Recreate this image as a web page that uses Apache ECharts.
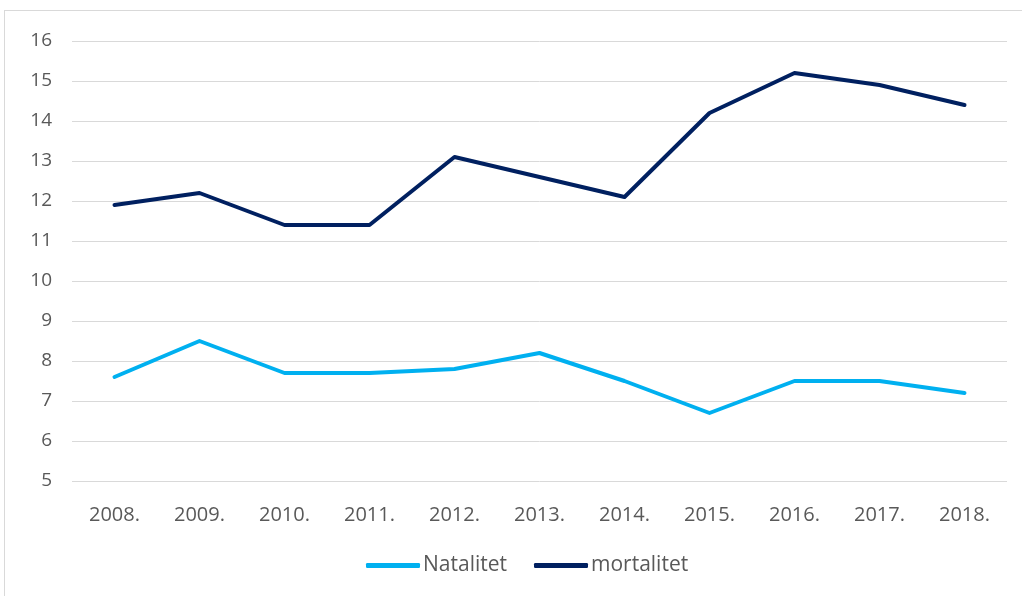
<!DOCTYPE html>
<html>
<head>
<meta charset="utf-8">
<script src="https://cdn.jsdelivr.net/npm/echarts@6/dist/echarts.min.js"></script>
<style>
    html, body {margin: 0; padding: 0; background: #fff;}
    #wrap {position: absolute; left: 4px; top: 10px; width: 1030px; height: 600px; border: 1px solid #d9d9d9; box-sizing: border-box;}
    #chart {position: absolute; left: 0; top: 0; width: 1022px; height: 596px;}
</style>
</head>
<body>
<div id="wrap"></div>
<div id="chart"></div>
<script>
const years = ['2008.', '2009.', '2010.', '2011.', '2012.', '2013.', '2014.', '2015.', '2016.', '2017.', '2018.'];
const natalitet = [7.6, 8.5, 7.7, 7.7, 7.8, 8.2, 7.5, 6.7, 7.5, 7.5, 7.2];
const mortalitet = [11.9, 12.2, 11.4, 11.4, 13.1, 12.6, 12.1, 14.2, 15.2, 14.9, 14.4];
const yTicks = {min: 5, max: 16, step: 1};

const chart = echarts.init(document.getElementById('chart'));
const labelFont = {color: '#595959', fontSize: 19, fontFamily: 'Open Sans, sans-serif'};

const option = {
    animation: false,
    grid: {left: 72, right: 15, top: 41, bottom: 115},
    legend: {
        bottom: 15,
        left: 361,
        itemWidth: 54,
        itemHeight: 5,
        itemGap: 27,
        icon: 'roundRect',
        textStyle: {color: '#595959', fontSize: 21, fontFamily: 'Open Sans, sans-serif', padding: [0, 0, 0, -2]},
        data: ['Natalitet', 'mortalitet']
    },
    xAxis: {
        type: 'category',
        data: years,
        boundaryGap: true,
        axisLine: {show: false},
        axisTick: {show: false},
        axisLabel: Object.assign({margin: 24}, labelFont, {fontSize: 20})
    },
    yAxis: {
        type: 'value',
        min: yTicks.min,
        max: yTicks.max,
        interval: yTicks.step,
        axisLine: {show: false},
        axisTick: {show: false},
        axisLabel: Object.assign({margin: 20, align: 'right'}, labelFont),
        splitLine: {lineStyle: {color: '#d9d9d9', width: 1}}
    },
    series: [
        {
            name: 'Natalitet',
            type: 'line',
            data: natalitet,
            symbol: 'none',
            itemStyle: {color: '#00b0f0'},
            lineStyle: {color: '#00b0f0', width: 4, cap: 'round', join: 'round'}
        },
        {
            name: 'mortalitet',
            type: 'line',
            data: mortalitet,
            symbol: 'none',
            itemStyle: {color: '#002060'},
            lineStyle: {color: '#002060', width: 4, cap: 'round', join: 'round'}
        }
    ]
};

chart.setOption(option);
</script>
</body>
</html>
